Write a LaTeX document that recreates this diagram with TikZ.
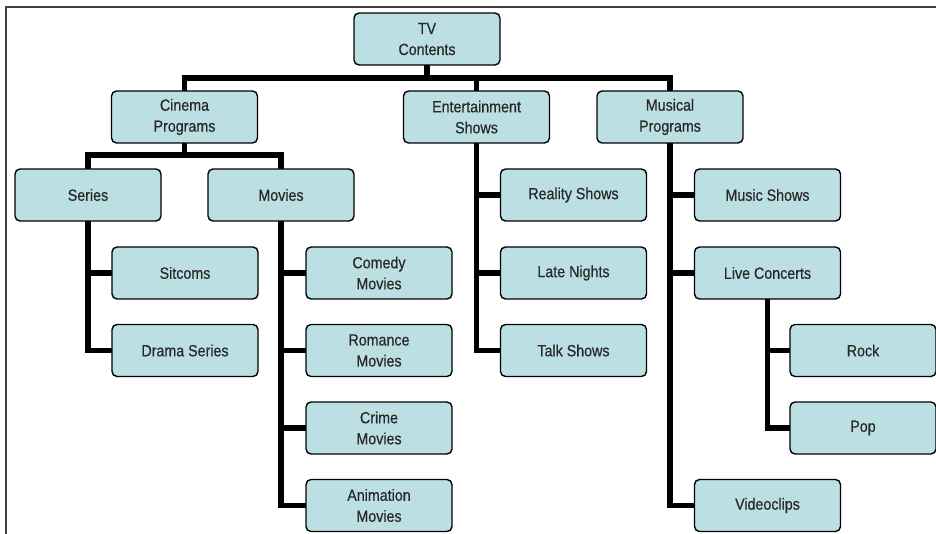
\documentclass[tikz,border=0pt]{standalone}
\usepackage{fontspec}
\setmainfont{Liberation Sans}[FakeStretch=0.88,FakeBold=0.4]
\usetikzlibrary{backgrounds}
\definecolor{boxfill}{RGB}{188,223,228}
\definecolor{boxtext}{RGB}{40,40,40}
\begin{document}
\begin{tikzpicture}[x=1pt,y=-1pt,
  box/.style={draw=black,line width=1.4pt,fill=boxfill,rounded corners=5pt,
    minimum width=146pt,minimum height=52pt,inner sep=0pt,align=center,
    text=boxtext,font=\fontsize{16.2}{21}\selectfont},
  conn/.style={line width=5.5pt,draw=black,line cap=rect}]
\useasboundingbox (0,0) rectangle (936,534);
% outer frame (top and left edges)
\draw[line width=1.4pt,black!75] (936,7) -- (6,7) -- (6,534);

% level 0 and 1
\node[box] (tv)  at (427,39)    {TV\\Contents};
\node[box] (cin) at (184.5,117) {Cinema\\Programs};
\node[box] (ent) at (476.5,117) {Entertainment\\Shows};
\node[box] (mus) at (670,117)   {Musical\\Programs};

% cinema branch
\node[box] (ser) at (88,195)  {Series};
\node[box] (mov) at (281,195) {Movies};
\node[box] (sit) at (185,273) {Sitcoms};
\node[box] (dra) at (185,350.5) {Drama Series};
\node[box] (com) at (379,273) {Comedy\\Movies};
\node[box] (rom) at (379,350.5) {Romance\\Movies};
\node[box] (cri) at (379,428) {Crime\\Movies};
\node[box] (ani) at (379,505.5) {Animation\\Movies};

% entertainment branch
\node[box] (rea) at (573.5,195)   {Reality Shows};
\node[box] (lat) at (573.5,273)   {Late Nights};
\node[box] (tal) at (573.5,350.5) {Talk Shows};

% musical branch
\node[box] (msh) at (767.5,195)   {Music Shows};
\node[box] (liv) at (767.5,273)   {Live Concerts};
\node[box] (roc) at (863,350.5)   {Rock};
\node[box] (pop) at (863,428)     {Pop};
\node[box] (vid) at (767.5,505.5) {Videoclips};

\coordinate (busA) at (0,78);
\coordinate (busB) at (0,155);

\begin{scope}[on background layer]
  % top-level bus
  \draw[conn] (tv.south) -- (tv.south |- busA);
  \draw[conn] (cin.north) |- (busA -| mus.north) -- (mus.north);
  \draw[conn] (ent.north) -- (ent.north |- busA);
  % cinema programs bus
  \draw[conn] (cin.south) -- (cin.south |- busB);
  \draw[conn] (ser.north) |- (busB -| mov.north) -- (mov.north);
  % series
  \draw[conn] (ser.south) |- (dra.west);
  \draw[conn] (ser.south |- sit.west) -- (sit.west);
  % movies
  \draw[conn] (mov.south) |- (ani.west);
  \draw[conn] (mov.south |- com.west) -- (com.west);
  \draw[conn] (mov.south |- rom.west) -- (rom.west);
  \draw[conn] (mov.south |- cri.west) -- (cri.west);
  % entertainment shows
  \draw[conn] (ent.south) |- (tal.west);
  \draw[conn] (ent.south |- rea.west) -- (rea.west);
  \draw[conn] (ent.south |- lat.west) -- (lat.west);
  % musical programs
  \draw[conn] (mus.south) |- (vid.west);
  \draw[conn] (mus.south |- msh.west) -- (msh.west);
  \draw[conn] (mus.south |- liv.west) -- (liv.west);
  % live concerts
  \draw[conn] (liv.south) |- (pop.west);
  \draw[conn] (liv.south |- roc.west) -- (roc.west);
\end{scope}
\end{tikzpicture}
\end{document}
